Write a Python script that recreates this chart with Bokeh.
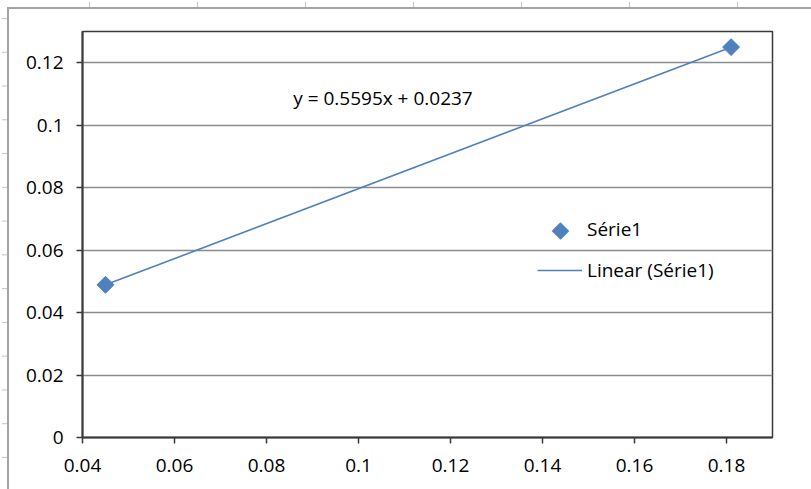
import math
from bokeh.plotting import figure
from bokeh.models import Range1d, FixedTicker, Label, Legend, LegendItem
from bokeh.embed import file_html
from bokeh.resources import INLINE

# Measured samples
x_vals = [0.045, 0.181]
y_vals = [0.0489, 0.125]

# Linear trendline fitted to Série1
slope = 0.5595
intercept = 0.0237

series_name = "Série1"
trend_name = "Linear (Série1)"

x_ticks = [0.04, 0.06, 0.08, 0.10, 0.12, 0.14, 0.16, 0.18]
x_tick_labels = ["0.04", "0.06", "0.08", "0.1", "0.12", "0.14", "0.16", "0.18"]
y_ticks = [0.0, 0.02, 0.04, 0.06, 0.08, 0.10, 0.12]
y_tick_labels = ["0", "0.02", "0.04", "0.06", "0.08", "0.1", "0.12"]

FONT = "Open Sans"
FS = "19px"
BLUE = "#4f81bd"
AXIS = "#3a3a3a"
GRID = "#8c8c8c"
FRAME = "#a3a3a3"
RULER = "#c4c4c4"

p = figure(width=811, height=489, output_backend="svg", toolbar_location=None,
           x_range=Range1d(0.04, 0.19), y_range=Range1d(0.0, 0.13),
           min_border_left=82, min_border_right=39,
           min_border_top=31, min_border_bottom=52)

p.background_fill_color = "white"
p.border_fill_alpha = 0
# Chart-area border with the sheet's ruler ticks, painted behind the canvas
p.styles = {
    "background": ", ".join([
        f"linear-gradient({FRAME},{FRAME}) 7px 7px / 2px 100% no-repeat",
        f"linear-gradient({FRAME},{FRAME}) 7px 7px / 100% 2px no-repeat",
        f"linear-gradient(to right, {RULER} 0 1px, transparent 1px 100%) 89px 2px / 108px 5px repeat-x",
        f"linear-gradient(to bottom, {RULER} 0 1px, transparent 1px 100%) 2px 18px / 5px 33.77px repeat-y",
        "white",
    ])
}
p.outline_line_color = AXIS
p.outline_line_width = 1.5

p.xgrid.visible = False
p.ygrid.grid_line_color = GRID
p.ygrid.grid_line_width = 1.3
p.ygrid.ticker = FixedTicker(ticks=y_ticks)

p.xaxis.ticker = FixedTicker(ticks=x_ticks)
p.yaxis.ticker = FixedTicker(ticks=y_ticks)
p.xaxis.major_label_overrides = {t: s for t, s in zip(x_ticks, x_tick_labels)}
p.yaxis.major_label_overrides = {t: s for t, s in zip(y_ticks, y_tick_labels)}

for ax in (p.xaxis, p.yaxis):
    ax.axis_line_color = AXIS
    ax.axis_line_width = 2
    ax.major_tick_line_color = AXIS
    ax.major_tick_line_width = 1.5
    ax.major_tick_in = 0
    ax.major_tick_out = 6
    ax.minor_tick_line_color = None
    ax.major_label_text_font = FONT
    ax.major_label_text_font_size = FS
    ax.major_label_text_color = "#000000"
p.xaxis.major_label_standoff = 15
p.yaxis.major_label_standoff = 13

# Trendline across the sampled x span
trend_x = [min(x_vals), max(x_vals)]
trend_y = [slope * x + intercept for x in trend_x]
trend = p.line(trend_x, trend_y, line_color=BLUE, line_width=1.6)

pts = p.scatter(x_vals, y_vals, marker="square", size=12, angle=math.pi / 4,
                fill_color=BLUE, line_color=BLUE)

# Legend slot for the series keeps its text; its key is drawn as a diamond label
series_key = p.line(x_vals, y_vals, line_alpha=0)

eq = Label(x=0.0858, y=0.1088, text=f"y = {slope:.4f}x + {intercept:.4f}",
           text_font=FONT, text_font_size=FS, text_color="#000000",
           text_align="left", text_baseline="middle")
p.add_layout(eq)

legend = Legend(items=[LegendItem(label=series_name, renderers=[series_key]),
                       LegendItem(label=trend_name, renderers=[trend])],
                location=(455, 154), orientation="vertical",
                glyph_width=45, glyph_height=24, label_height=24,
                label_standoff=5, spacing=15, padding=0, margin=0,
                border_line_color=None, background_fill_alpha=0,
                label_text_font=FONT, label_text_font_size=FS,
                label_text_color="#000000")
p.add_layout(legend)

key = Label(x=0.1439, y=0.0668, text="\u25c6", text_font="DejaVu Sans",
            text_font_size="23px", text_color=BLUE,
            text_align="center", text_baseline="middle")
p.add_layout(key)

open("out.html", "w").write(file_html(p, INLINE))
